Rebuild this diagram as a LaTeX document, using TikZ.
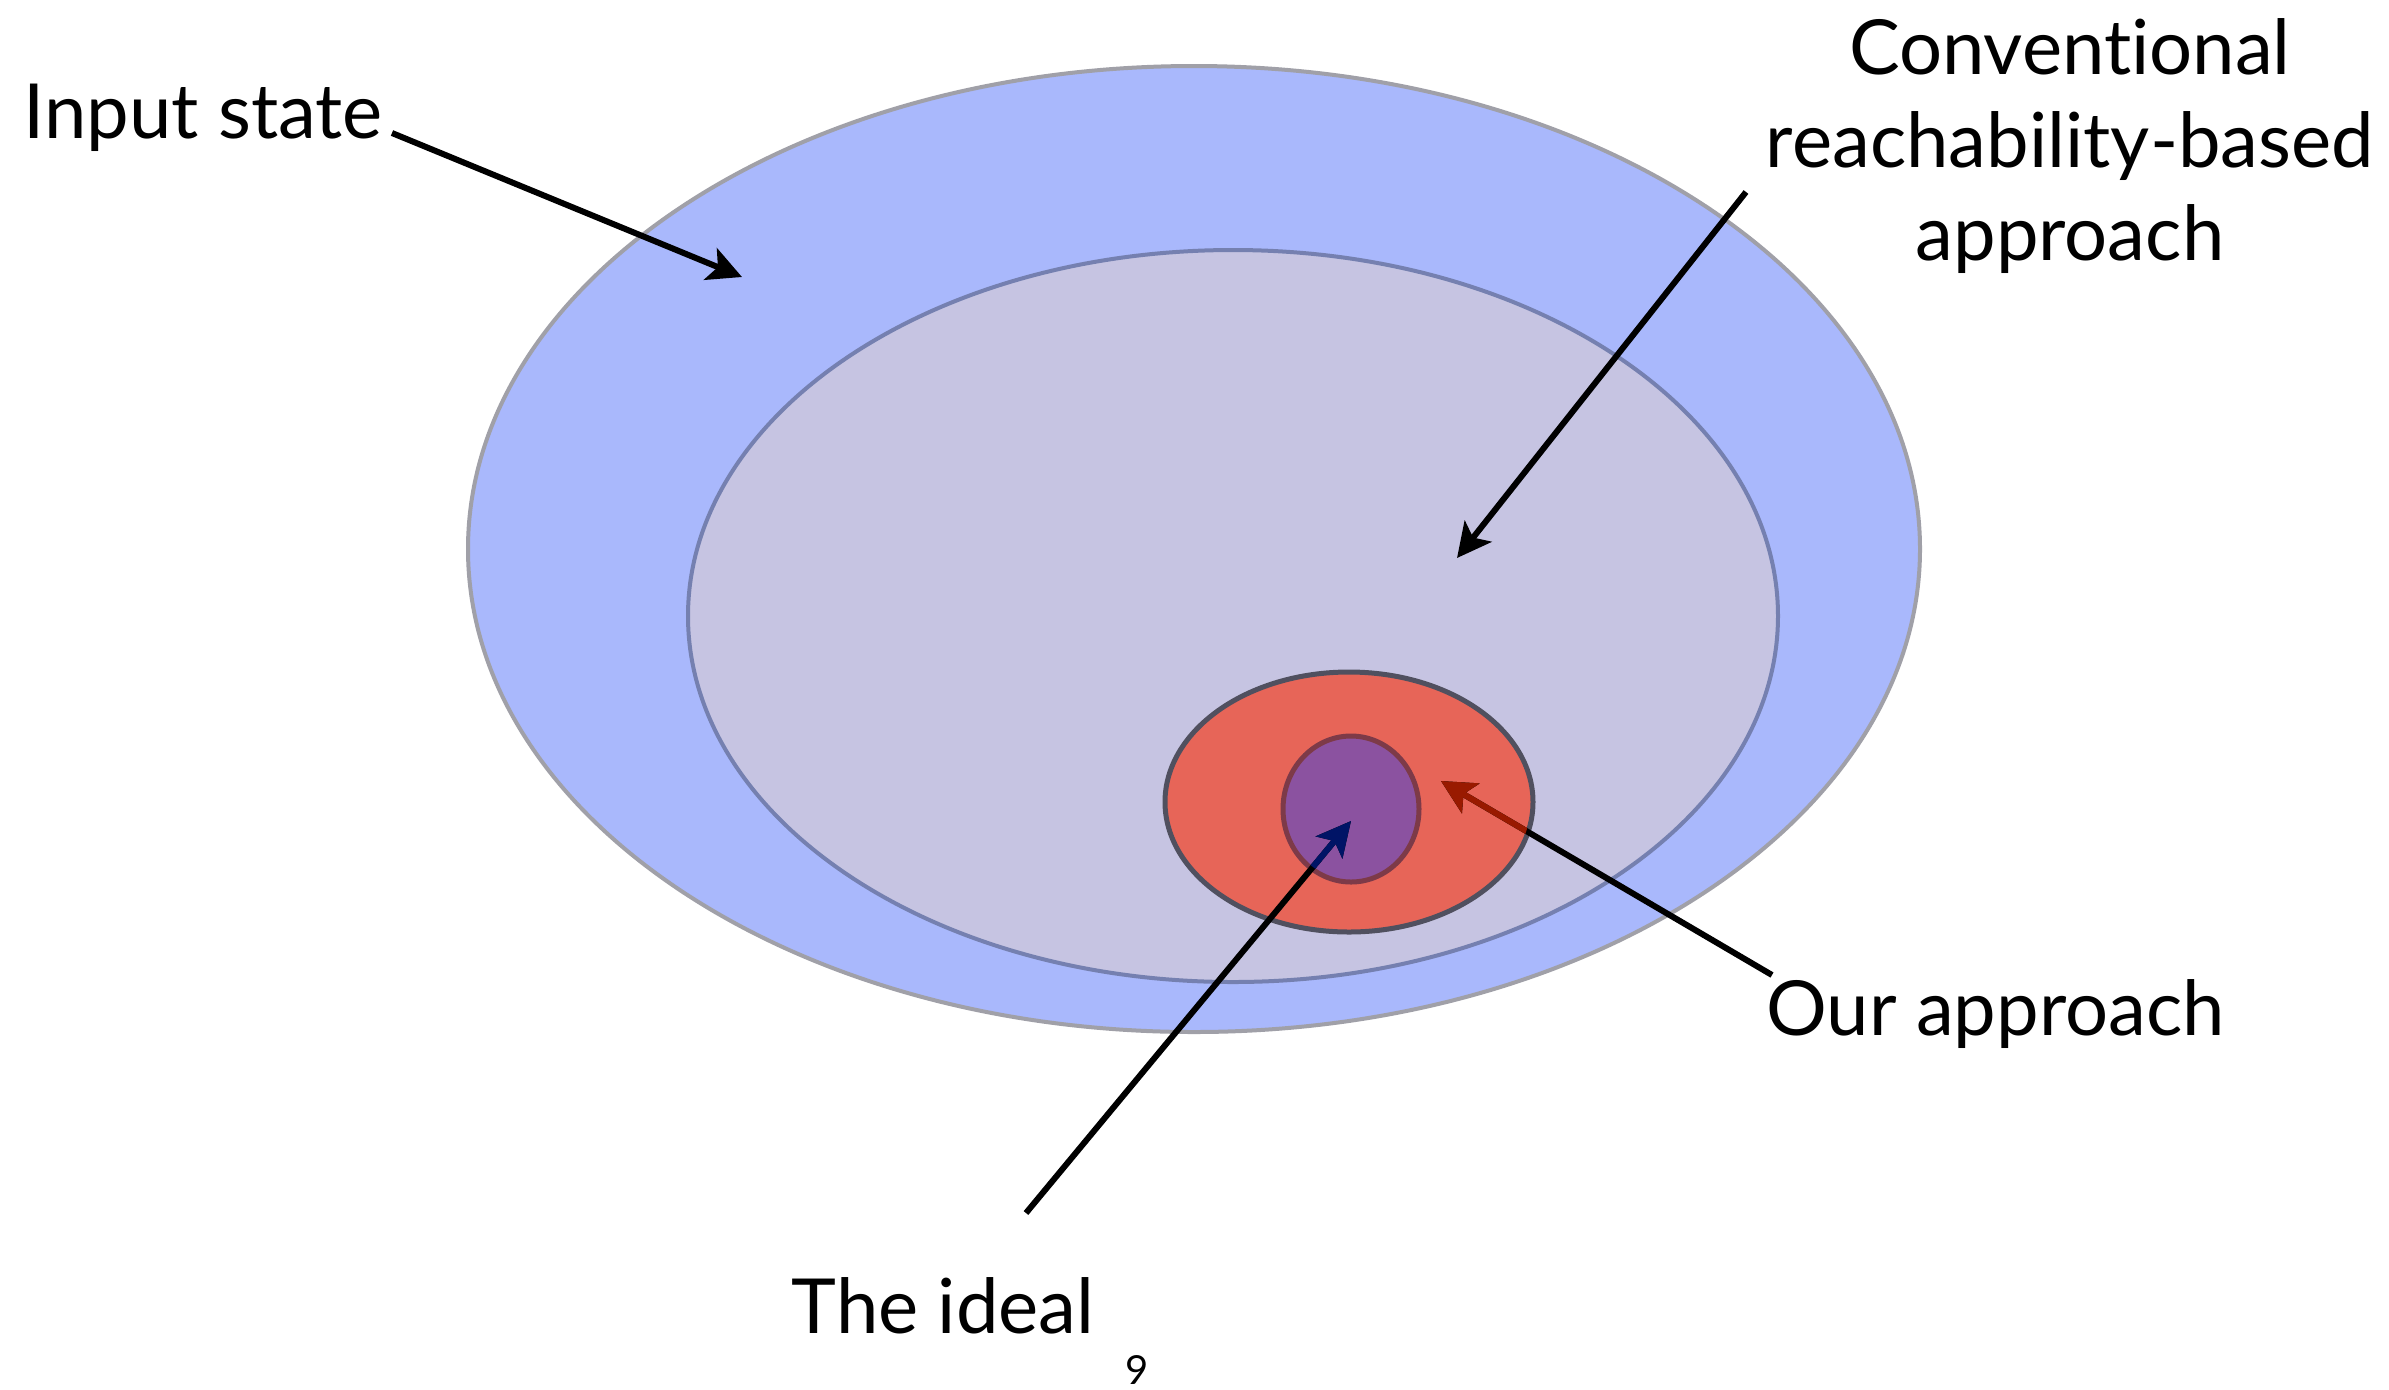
\documentclass[tikz,border=0pt]{standalone}
\usepackage{fontspec}
\setmainfont{Lato}[Ligatures=CommonOff]
\usetikzlibrary{shapes.geometric,arrows.meta}
\definecolor{outerfill}{HTML}{A9B8FC}
\definecolor{outerline}{HTML}{A0A0A8}
\definecolor{midfill}{HTML}{C6C4E2}
\definecolor{midline}{HTML}{7580B0}
\definecolor{redfill}{HTML}{E76558}
\definecolor{redline}{HTML}{50505F}
\definecolor{purfill}{HTML}{8B52A0}
\definecolor{purline}{HTML}{7D3A48}
\definecolor{darkred}{HTML}{991A00}
\definecolor{navy}{HTML}{001466}
\begin{document}
\begin{tikzpicture}[x=0.5pt,y=-0.5pt,
  region/.style={ellipse, inner sep=0pt, outer sep=0pt},
  lbl/.style={inner sep=0pt, font=\fontsize{38}{45}\selectfont},
  pointer/.style={line width=3pt, -{Stealth[length=17pt,width=17pt,inset=4pt]}}]
\useasboundingbox[fill=white] (0,0) rectangle (2389,1389);
% regions
\node[region, fill=outerfill, draw=outerline, line width=2pt, minimum width=726pt, minimum height=483pt] (outer) at (1194,549) {};
\node[region, fill=midfill, draw=midline, line width=2pt, minimum width=545pt, minimum height=366pt] (middle) at (1233,616) {};
\node[region, fill=redfill, draw=redline, line width=2.5pt, minimum width=184pt, minimum height=130pt] (ours) at (1349,802) {};
\node[region, fill=purfill, draw=purline, line width=2.5pt, minimum width=68pt, minimum height=73pt] (ideal) at (1351,809) {};
% labels
\node[lbl, anchor=base west] (lin) at (23,138) {Input state};
\node[lbl, anchor=base] (conv1) at (2070,74) {Conventional};
\node[lbl, anchor=base] (conv2) at (2070,167) {reachability-based};
\node[lbl, anchor=base] (conv3) at (2070,260) {approach};
\node[lbl, anchor=base west] (lour) at (1766,1035) {Our approach};
\node[lbl, anchor=base east] (lideal) at (1095,1333) {The ideal};
\node[inner sep=0pt, font=\fontsize{20}{24}\selectfont] (page) at (1137,1370) {9};
% arrow end points
\coordinate (a1s) at (392,133);
\coordinate (a1e) at (742,277);
\coordinate (a2s) at (1746,192);
\coordinate (a2e) at (1457,558);
\coordinate (a3s) at (1772,975);
\coordinate (a3e) at (1441,781);
\coordinate (a4s) at (1026,1213);
\coordinate (a4e) at (1351,821);
% arrows
\draw[pointer] (a1s) -- (a1e);
\draw[pointer] (a2s) -- (a2e);
\draw[pointer] (a3s) -- (a3e);
\draw[pointer] (a4s) -- (a4e);
\begin{scope}
  \clip (1349,802) ellipse [x radius=182, y radius=128];
  \draw[pointer, darkred] (a3s) -- (a3e);
\end{scope}
\begin{scope}
  \clip (1351,809) ellipse [x radius=66, y radius=71];
  \draw[pointer, navy] (a4s) -- (a4e);
\end{scope}
\end{tikzpicture}
\end{document}
